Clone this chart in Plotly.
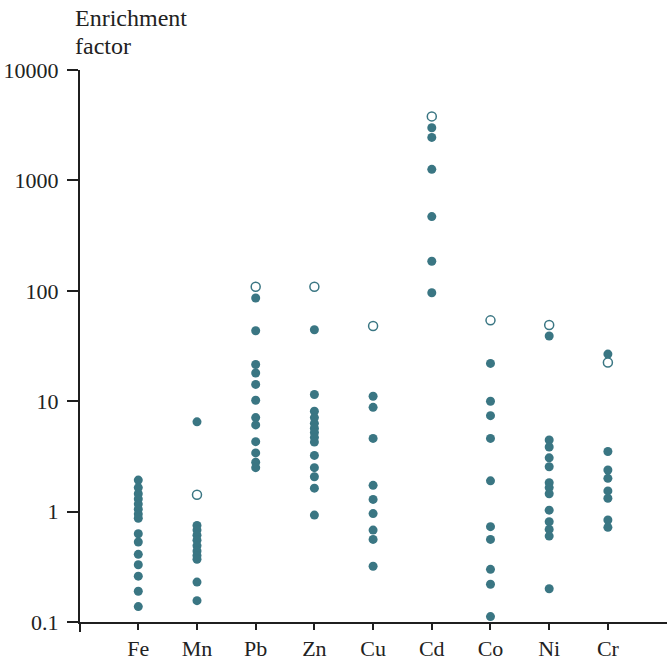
import plotly.graph_objects as go

categories = ["Fe", "Mn", "Pb", "Zn", "Cu", "Cd", "Co", "Ni", "Cr"]

fe = [1.93, 1.65, 1.45, 1.3, 1.17, 1.05, 0.95, 0.87, 0.63, 0.53, 0.41, 0.33, 0.26, 0.19, 0.138]
mn = [6.5, 0.75, 0.68, 0.61, 0.55, 0.49, 0.44, 0.40, 0.37, 0.23, 0.156]
pb = [86, 43.5, 21.5, 18, 14.2, 10.2, 7.1, 6.1, 4.3, 3.4, 2.8, 2.5]
zn = [44.4, 11.5, 8.1, 7.1, 6.3, 5.7, 5.2, 4.7, 4.26, 3.23, 2.5, 2.07, 1.63, 0.93]
cu = [11.1, 8.8, 4.6, 1.73, 1.29, 0.96, 0.68, 0.56, 0.32]
cd = [3000, 2450, 1260, 470, 185, 96]
co = [22, 10, 7.4, 4.6, 1.9, 0.73, 0.56, 0.30, 0.22, 0.112]
ni = [39, 4.45, 3.85, 3.07, 2.55, 1.83, 1.65, 1.45, 1.03, 0.81, 0.69, 0.60, 0.20]
cr = [26.7, 3.5, 2.38, 2.0, 1.54, 1.32, 0.84, 0.72]

# open circles (one per element; Fe has none)
open_values = [None, 1.42, 109, 109, 48, 3800, 54, 49, 22.4]

filled_series = [fe, mn, pb, zn, cu, cd, co, ni, cr]

y_ticks = [0.1, 1, 10, 100, 1000, 10000]
y_tick_text = ["0.1", "1", "10", "100", "1000", "10000"]

TEAL = "#3a7683"
AXIS = "#1f1f1f"
FONT = "Liberation Serif"

fx, fy = [], []
for cat, vals in zip(categories, filled_series):
    fx += [cat] * len(vals)
    fy += vals

ox = [c for c, v in zip(categories, open_values) if v is not None]
oy = [v for v in open_values if v is not None]

fig = go.Figure()
fig.add_trace(go.Scatter(
    x=fx, y=fy, mode="markers",
    marker=dict(size=9, color=TEAL, line=dict(width=0)),
    showlegend=False))
fig.add_trace(go.Scatter(
    x=ox, y=oy, mode="markers",
    marker=dict(size=9, color="white", line=dict(width=1.5, color=TEAL)),
    showlegend=False))

fig.update_layout(
    width=667, height=661,
    margin=dict(l=80, r=0, t=70, b=39),
    paper_bgcolor="white", plot_bgcolor="white",
    font=dict(family=FONT, size=22, color="#222"),
    showlegend=False,
)

fig.update_xaxes(
    type="category", categoryorder="array", categoryarray=categories,
    range=[-0.993, 9.007],
    showline=True, linecolor=AXIS, linewidth=2,
    ticks="outside", ticklen=6, tickwidth=2, tickcolor=AXIS,
    showgrid=False, zeroline=False,
    tickfont=dict(family=FONT, size=22, color="#222"),
)
fig.update_yaxes(
    type="log", range=[-1, 4],
    tickvals=y_ticks, ticktext=y_tick_text,
    showline=True, linecolor=AXIS, linewidth=2,
    ticks="outside", ticklen=11, tickwidth=2, tickcolor=AXIS,
    ticklabelstandoff=4,
    showgrid=False, zeroline=False,
    tickfont=dict(family=FONT, size=22, color="#222"),
)

# small extension of the y axis below the x axis
fig.add_shape(type="line", xref="paper", yref="paper",
              x0=0, x1=0, y0=0, y1=-0.018,
              line=dict(color=AXIS, width=2))

fig.add_annotation(
    text="Enrichment", xref="paper", yref="paper",
    x=-0.012, y=1.1214, xanchor="left", yanchor="top", align="left",
    showarrow=False, font=dict(family=FONT, size=24, color="#222"))
fig.add_annotation(
    text="factor", xref="paper", yref="paper",
    x=-0.012, y=1.0707, xanchor="left", yanchor="top", align="left",
    showarrow=False, font=dict(family=FONT, size=24, color="#222"))

fig.write_html("out.html")
